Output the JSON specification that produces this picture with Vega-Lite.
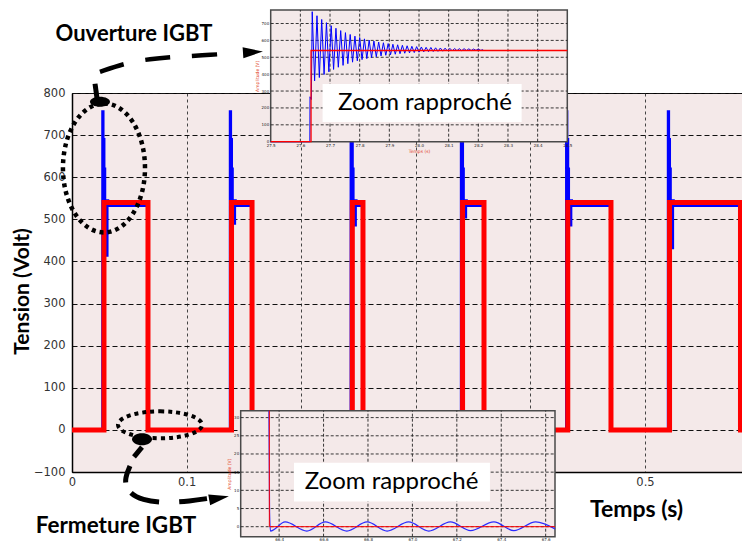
{
  "$schema": "https://vega.github.io/schema/vega-lite/v6.json",
  "width": 671,
  "height": 379,
  "autosize": {"type": "none"},
  "padding": {"left": 72, "top": 93, "right": 0, "bottom": 73},
  "background": "white",
  "config": {
    "view": {"fill": "#f4e9e9", "stroke": "#000000", "strokeWidth": 1},
    "axis": {"labelFont": "DejaVu Sans", "titleFont": "Lato"},
    "text": {"font": "Lato"}
  },
  "datasets": {
    "signal_commande": [
      {"t": 0, "v": 0}, {"t": 0.0279, "v": 540}, {"t": 0.0663, "v": 0},
      {"t": 0.1392, "v": 540}, {"t": 0.1571, "v": 0},
      {"t": 0.2446, "v": 540}, {"t": 0.2539, "v": 0},
      {"t": 0.3408, "v": 540}, {"t": 0.3595, "v": 0},
      {"t": 0.4326, "v": 540}, {"t": 0.4703, "v": 0},
      {"t": 0.5214, "v": 540}, {"t": 0.5833, "v": 0},
      {"t": 0.5855, "v": 0}
    ],
    "signal_mesure": [
      {"t": 0, "v": 0},
      {"t": 0.0266, "v": 756}, {"t": 0.0273, "v": 690}, {"t": 0.0281, "v": 620}, {"t": 0.0288, "v": 545}, {"t": 0.0302, "v": 414}, {"t": 0.0308, "v": 545}, {"t": 0.0314, "v": 532}, {"t": 0.0663, "v": 0},
      {"t": 0.1379, "v": 756}, {"t": 0.1386, "v": 690}, {"t": 0.1394, "v": 620}, {"t": 0.1401, "v": 545}, {"t": 0.1415, "v": 490}, {"t": 0.1421, "v": 545}, {"t": 0.1427, "v": 532}, {"t": 0.1571, "v": 0},
      {"t": 0.2433, "v": 756}, {"t": 0.244, "v": 690}, {"t": 0.2448, "v": 620}, {"t": 0.2455, "v": 545}, {"t": 0.2469, "v": 486}, {"t": 0.2475, "v": 545}, {"t": 0.2481, "v": 532}, {"t": 0.2539, "v": 0},
      {"t": 0.3395, "v": 756}, {"t": 0.3402, "v": 690}, {"t": 0.341, "v": 620}, {"t": 0.3417, "v": 545}, {"t": 0.3431, "v": 505}, {"t": 0.3437, "v": 545}, {"t": 0.3443, "v": 532}, {"t": 0.3595, "v": 0},
      {"t": 0.4313, "v": 756}, {"t": 0.432, "v": 690}, {"t": 0.4328, "v": 620}, {"t": 0.4335, "v": 545}, {"t": 0.4349, "v": 486}, {"t": 0.4355, "v": 545}, {"t": 0.4361, "v": 532}, {"t": 0.4703, "v": 0},
      {"t": 0.5201, "v": 756}, {"t": 0.5208, "v": 690}, {"t": 0.5216, "v": 620}, {"t": 0.5223, "v": 545}, {"t": 0.5237, "v": 432}, {"t": 0.5243, "v": 545}, {"t": 0.5249, "v": 532}, {"t": 0.5833, "v": 0},
      {"t": 0.5855, "v": 0}
    ],
    "zoom_ouv_commande": [
      {"ms": 27.5, "v": 0}, {"ms": 27.636, "v": 540}, {"ms": 28.5, "v": 540}
    ],
    "zoom_ouv_mesure": [
      {"ms": 27.5, "v": 0}, {"ms": 27.632, "v": 0}, {"ms": 27.6325, "v": 266}, {"ms": 27.637, "v": 250},
      {"ms": 27.64, "v": 770}, {"ms": 27.648, "v": 360}, {"ms": 27.656, "v": 746}, {"ms": 27.664, "v": 380},
      {"ms": 27.672, "v": 724}, {"ms": 27.68, "v": 398}, {"ms": 27.688, "v": 705}, {"ms": 27.696, "v": 414},
      {"ms": 27.704, "v": 687}, {"ms": 27.712, "v": 428}, {"ms": 27.72, "v": 672}, {"ms": 27.728, "v": 441},
      {"ms": 27.736, "v": 658}, {"ms": 27.744, "v": 452}, {"ms": 27.752, "v": 646}, {"ms": 27.76, "v": 462},
      {"ms": 27.768, "v": 635}, {"ms": 27.776, "v": 471}, {"ms": 27.784, "v": 625}, {"ms": 27.792, "v": 479},
      {"ms": 27.8, "v": 617}, {"ms": 27.808, "v": 486}, {"ms": 27.816, "v": 609}, {"ms": 27.824, "v": 492},
      {"ms": 27.832, "v": 602}, {"ms": 27.84, "v": 498}, {"ms": 27.848, "v": 596}, {"ms": 27.856, "v": 503},
      {"ms": 27.864, "v": 590}, {"ms": 27.872, "v": 508}, {"ms": 27.88, "v": 586}, {"ms": 27.888, "v": 512},
      {"ms": 27.896, "v": 581}, {"ms": 27.904, "v": 515}, {"ms": 27.912, "v": 577}, {"ms": 27.92, "v": 518},
      {"ms": 27.928, "v": 574}, {"ms": 27.936, "v": 521}, {"ms": 27.944, "v": 571}, {"ms": 27.952, "v": 524},
      {"ms": 27.96, "v": 568}, {"ms": 27.968, "v": 526}, {"ms": 27.976, "v": 565}, {"ms": 27.984, "v": 528},
      {"ms": 27.992, "v": 563}, {"ms": 28.0, "v": 530}, {"ms": 28.008, "v": 561}, {"ms": 28.016, "v": 532},
      {"ms": 28.024, "v": 559}, {"ms": 28.032, "v": 533}, {"ms": 28.04, "v": 558}, {"ms": 28.048, "v": 534},
      {"ms": 28.056, "v": 556}, {"ms": 28.064, "v": 535}, {"ms": 28.072, "v": 555}, {"ms": 28.08, "v": 536},
      {"ms": 28.088, "v": 554}, {"ms": 28.096, "v": 537}, {"ms": 28.104, "v": 553}, {"ms": 28.112, "v": 538},
      {"ms": 28.12, "v": 552}, {"ms": 28.128, "v": 539}, {"ms": 28.136, "v": 551}, {"ms": 28.144, "v": 539},
      {"ms": 28.152, "v": 551}, {"ms": 28.16, "v": 540}, {"ms": 28.168, "v": 550}, {"ms": 28.176, "v": 540},
      {"ms": 28.184, "v": 549}, {"ms": 28.192, "v": 541}, {"ms": 28.2, "v": 549}, {"ms": 28.208, "v": 541},
      {"ms": 28.216, "v": 545}
    ],
    "zoom_ferm_commande": [
      {"ms": 66.355, "v": 31.9}, {"ms": 66.356, "v": 0}, {"ms": 67.642, "v": 0}
    ],
    "zoom_ferm_mesure": [
      {"ms": 66.354, "v": 31.9}, {"ms": 66.357, "v": 4}, {"ms": 66.361, "v": -1.2},
      {"ms": 66.427, "v": 1.3}, {"ms": 66.525, "v": -1.2}, {"ms": 66.608, "v": 1.3}, {"ms": 66.705, "v": -1.2},
      {"ms": 66.796, "v": 1.3}, {"ms": 66.886, "v": -1.2}, {"ms": 66.983, "v": 1.3}, {"ms": 67.074, "v": -1.2},
      {"ms": 67.171, "v": 1.3}, {"ms": 67.262, "v": -1.1}, {"ms": 67.367, "v": 1.3}, {"ms": 67.457, "v": -1.1},
      {"ms": 67.555, "v": 1.3}, {"ms": 67.642, "v": -0.6}
    ],
    "grille_ouv_t": [
      {"ms": 27.6}, {"ms": 27.7}, {"ms": 27.8}, {"ms": 27.9}, {"ms": 28.0},
      {"ms": 28.1}, {"ms": 28.2}, {"ms": 28.3}, {"ms": 28.4}
    ],
    "grille_ouv_v": [
      {"v": 100}, {"v": 200}, {"v": 300}, {"v": 400}, {"v": 500}, {"v": 600}, {"v": 700}
    ],
    "grille_ferm_t": [
      {"ms": 66.4}, {"ms": 66.6}, {"ms": 66.8}, {"ms": 67.0}, {"ms": 67.2}, {"ms": 67.4}, {"ms": 67.6}
    ],
    "grille_ferm_v": [
      {"v": 0}, {"v": 5}, {"v": 10}, {"v": 15}, {"v": 20}, {"v": 25}, {"v": 30}
    ],
    "fleche_ouv": [
      {"k": 1, "t": 0.0244, "v": 850}, {"k": 2, "t": 0.0463, "v": 871}, {"k": 3, "t": 0.0681, "v": 881},
      {"k": 4, "t": 0.0899, "v": 886}, {"k": 5, "t": 0.1117, "v": 889}, {"k": 6, "t": 0.1449, "v": 895}
    ],
    "fleche_ferm": [
      {"k": 1, "t": 0.0506, "v": -86}, {"k": 2, "t": 0.0454, "v": -119}, {"k": 3, "t": 0.0489, "v": -148},
      {"k": 4, "t": 0.0611, "v": -167}, {"k": 5, "t": 0.0812, "v": -174}, {"k": 6, "t": 0.103, "v": -169},
      {"k": 7, "t": 0.1204, "v": -162}
    ],
    "poignees": [
      {"p": "ouverture", "t": 0.0201, "v": 822}, {"p": "ouverture", "t": 0.0218, "v": 788},
      {"p": "fermeture", "t": 0.0611, "v": -41}, {"p": "fermeture", "t": 0.0541, "v": -64}
    ]
  },
  "layer": [
    {
      "layer": [
        {
          "data": {"name": "signal_mesure"},
          "mark": {"type": "line", "color": "#0000ff", "strokeWidth": 2.5, "interpolate": "step-after", "clip": true},
          "encoding": {
            "x": {
              "field": "t", "type": "quantitative",
              "scale": {"domain": [0, 0.5855], "nice": false, "zero": false},
              "axis": {
                "orient": "bottom", "values": [0, 0.1, 0.2, 0.3, 0.4, 0.5], "format": ".1~f",
                "labelExpr": "datum.value < 0.15 || datum.value > 0.45 ? datum.label : ''",
                "labelFontSize": 11.5, "labelColor": "#333333", "labelPadding": 4, "labelFlush": false,
                "ticks": false, "domainColor": "#000000", "domainWidth": 1.5,
                "gridColor": "#444444", "gridDash": [3, 3], "gridWidth": 1,
                "title": "Temps (s)", "titleFontSize": 23, "titleFontWeight": "bold", "titleColor": "#000000",
                "titleX": 564, "titleY": 37, "titleBaseline": "middle", "titleAlign": "center"
              }
            },
            "y": {
              "field": "v", "type": "quantitative",
              "scale": {"domain": [-100, 800], "nice": false, "zero": false},
              "axis": {
                "orient": "left", "values": [-100, 0, 100, 200, 300, 400, 500, 600, 700, 800], "format": "d",
                "labelFontSize": 11.5, "labelColor": "#333333", "labelPadding": 7,
                "ticks": false, "domainColor": "#000000", "domainWidth": 1.5,
                "gridColor": "#111111", "gridDash": [5, 3], "gridWidth": 1,
                "title": "Tension (Volt)", "titleFontSize": 21, "titleFontWeight": "bold", "titleColor": "#000000",
                "titleX": -50, "titleY": 198, "titleAngle": 270, "titleBaseline": "middle", "titleAlign": "center"
              }
            }
          }
        },
        {
          "data": {"name": "signal_commande"},
          "mark": {"type": "line", "color": "#ff0000", "strokeWidth": 5, "interpolate": "step-after", "strokeCap": "butt", "strokeJoin": "miter", "clip": true},
          "encoding": {
            "x": {"field": "t", "type": "quantitative"},
            "y": {"field": "v", "type": "quantitative"}
          }
        },
        {
          "data": {"values": [{}]},
          "mark": {
            "type": "point", "filled": false, "stroke": "#000000", "strokeOpacity": 1, "opacity": 1, "strokeWidth": 4.5, "strokeDash": [4, 4], "size": 16641,
            "shape": "M 0 -1 C 0.351 -1 0.636 -0.552 0.636 0 C 0.636 0.552 0.351 1 0 1 C -0.351 1 -0.636 0.552 -0.636 0 C -0.636 -0.552 -0.351 -1 0 -1 Z"
          },
          "encoding": {"x": {"datum": 0.0279}, "y": {"datum": 622}}
        },
        {
          "data": {"values": [{}]},
          "mark": {
            "type": "point", "filled": false, "stroke": "#000000", "strokeOpacity": 1, "opacity": 1, "strokeWidth": 4, "strokeDash": [4, 4], "size": 7056,
            "shape": "M 0 -0.321 C 0.552 -0.321 1 -0.177 1 0 C 1 0.177 0.552 0.321 0 0.321 C -0.552 0.321 -1 0.177 -1 0 C -1 -0.177 -0.552 -0.321 0 -0.321 Z"
          },
          "encoding": {"x": {"datum": 0.0768}, "y": {"datum": 12}}
        },
        {
          "data": {"name": "poignees"},
          "mark": {"type": "line", "color": "#000000", "strokeWidth": 5, "strokeCap": "butt"},
          "encoding": {
            "x": {"field": "t", "type": "quantitative"},
            "y": {"field": "v", "type": "quantitative"},
            "detail": {"field": "p"}
          }
        },
        {
          "data": {"values": [{}]},
          "mark": {
            "type": "point", "filled": true, "color": "#000000", "opacity": 1, "size": 400,
            "shape": "M 0 -0.5 C 0.552 -0.5 1 -0.276 1 0 C 1 0.276 0.552 0.5 0 0.5 C -0.552 0.5 -1 0.276 -1 0 C -1 -0.276 -0.552 -0.5 0 -0.5 Z"
          },
          "encoding": {"x": {"datum": 0.0244}, "y": {"datum": 779}}
        },
        {
          "data": {"values": [{}]},
          "mark": {
            "type": "point", "filled": true, "color": "#000000", "opacity": 1, "size": 400,
            "shape": "M 0 -0.6 C 0.552 -0.6 1 -0.331 1 0 C 1 0.331 0.552 0.6 0 0.6 C -0.552 0.6 -1 0.331 -1 0 C -1 -0.331 -0.552 -0.6 0 -0.6 Z"
          },
          "encoding": {"x": {"datum": 0.0611}, "y": {"datum": -22}}
        },
        {
          "data": {"name": "fleche_ouv"},
          "mark": {"type": "line", "color": "#000000", "strokeWidth": 4.5, "strokeDash": [25, 22], "interpolate": "basis", "strokeCap": "butt"},
          "encoding": {
            "x": {"field": "t", "type": "quantitative"},
            "y": {"field": "v", "type": "quantitative"},
            "order": {"field": "k"}
          }
        },
        {
          "data": {"name": "fleche_ferm"},
          "mark": {"type": "line", "color": "#000000", "strokeWidth": 5, "strokeDash": [17, 12, 30, 20, 28, 20], "interpolate": "basis", "strokeCap": "butt"},
          "encoding": {
            "x": {"field": "t", "type": "quantitative"},
            "y": {"field": "v", "type": "quantitative"},
            "order": {"field": "k"}
          }
        },
        {
          "data": {"values": [{}]},
          "mark": {"type": "point", "filled": true, "color": "#000000", "opacity": 1, "size": 400, "angle": -4, "shape": "M 1 0 L -1 -0.55 L -1 0.55 Z"},
          "encoding": {"x": {"datum": 0.1579}, "y": {"datum": 897}}
        },
        {
          "data": {"values": [{}]},
          "mark": {"type": "point", "filled": true, "color": "#000000", "opacity": 1, "size": 400, "angle": -10, "shape": "M 1 0 L -1 -0.55 L -1 0.55 Z"},
          "encoding": {"x": {"datum": 0.1283}, "y": {"datum": -162}}
        },
        {
          "data": {"values": [{}]},
          "mark": {"type": "text", "text": "Ouverture IGBT", "font": "Lato", "fontSize": 22, "fontWeight": "bold", "color": "#000000", "align": "center", "baseline": "middle"},
          "encoding": {"x": {"datum": 0.0541}, "y": {"datum": 940}}
        },
        {
          "data": {"values": [{}]},
          "mark": {"type": "text", "text": "Fermeture IGBT", "font": "Lato", "fontSize": 22.5, "fontWeight": "bold", "color": "#000000", "align": "center", "baseline": "middle"},
          "encoding": {"x": {"datum": 0.0384}, "y": {"datum": -228}}
        }
      ]
    },
    {
      "layer": [
        {
          "data": {"values": [{}]},
          "mark": {"type": "rect", "fill": "#f4e9e9", "stroke": "#4a4a4a", "strokeWidth": 1.5},
          "encoding": {
            "x": {
              "datum": 27.5, "type": "quantitative",
              "scale": {"domain": [27.5, 28.5], "range": [198.7, 495.3], "nice": false, "zero": false},
              "axis": {
                "orient": "bottom", "offset": -330.3,
                "values": [27.5, 27.6, 27.7, 27.8, 27.9, 28.0, 28.1, 28.2, 28.3, 28.4, 28.5], "format": ".1f",
                "labelFontSize": 4, "labelColor": "#222222", "labelPadding": 1.5, "labelFlush": false, "labelOverlap": false,
                "ticks": false, "domain": false, "grid": false,
                "title": "Temps (s)", "titleFont": "DejaVu Sans", "titleFontSize": 4.5, "titleFontWeight": "normal",
                "titleColor": "#e2452b", "titlePadding": 1.5, "zindex": 1
              }
            },
            "x2": {"datum": 28.5},
            "y": {
              "datum": 0, "type": "quantitative",
              "scale": {"domain": [0, 780], "range": [48.7, -83], "nice": false, "zero": false},
              "axis": {
                "orient": "left", "offset": -198.7,
                "values": [0, 100, 200, 300, 400, 500, 600, 700], "format": "d",
                "labelFontSize": 4, "labelColor": "#222222", "labelPadding": 2, "labelOverlap": false,
                "ticks": false, "domain": false, "grid": false,
                "title": "Amplitude (V)", "titleFont": "DejaVu Sans", "titleFontSize": 4.5, "titleFontWeight": "normal",
                "titleColor": "#e2452b", "titlePadding": 2, "zindex": 1
              }
            },
            "y2": {"datum": 780}
          }
        },
        {
          "data": {"name": "grille_ouv_t"},
          "mark": {"type": "rule", "color": "#222222", "strokeWidth": 0.9, "strokeDash": [3, 2]},
          "encoding": {
            "x": {"field": "ms", "type": "quantitative"},
            "y": {"datum": 0},
            "y2": {"datum": 780}
          }
        },
        {
          "data": {"name": "grille_ouv_v"},
          "mark": {"type": "rule", "color": "#222222", "strokeWidth": 0.9, "strokeDash": [3, 2]},
          "encoding": {
            "y": {"field": "v", "type": "quantitative"},
            "x": {"datum": 27.5},
            "x2": {"datum": 28.5}
          }
        },
        {
          "data": {"name": "zoom_ouv_mesure"},
          "mark": {"type": "line", "color": "#0000ff", "strokeWidth": 1},
          "encoding": {
            "x": {"field": "ms", "type": "quantitative"},
            "y": {"field": "v", "type": "quantitative"}
          }
        },
        {
          "data": {"name": "zoom_ouv_commande"},
          "mark": {"type": "line", "color": "#ff0000", "strokeWidth": 1.3, "interpolate": "step-after"},
          "encoding": {
            "x": {"field": "ms", "type": "quantitative"},
            "y": {"field": "v", "type": "quantitative"}
          }
        },
        {
          "data": {"values": [{}]},
          "mark": {"type": "rect", "fill": "#ffffff"},
          "encoding": {
            "x": {"datum": 27.675},
            "x2": {"datum": 28.346},
            "y": {"datum": 117},
            "y2": {"datum": 342}
          }
        },
        {
          "data": {"values": [{}]},
          "mark": {"type": "text", "text": "Zoom rapproché", "font": "Lato", "fontSize": 24, "color": "#000000", "align": "center", "baseline": "middle"},
          "encoding": {"x": {"datum": 28.02}, "y": {"datum": 229}}
        }
      ]
    },
    {
      "layer": [
        {
          "data": {"values": [{}]},
          "mark": {"type": "rect", "fill": "#f4e9e9", "stroke": "#4a4a4a", "strokeWidth": 1.5},
          "encoding": {
            "x": {
              "datum": 66.227, "type": "quantitative",
              "scale": {"domain": [66.227, 67.642], "range": [168.7, 483], "nice": false, "zero": false},
              "axis": {
                "orient": "bottom", "offset": 64.7,
                "values": [66.4, 66.6, 66.8, 67.0, 67.2, 67.4, 67.6], "format": ".1f",
                "labelFontSize": 4, "labelColor": "#222222", "labelPadding": 0.5, "labelFlush": false, "labelOverlap": false,
                "ticks": false, "domain": false, "grid": false,
                "title": null, "zindex": 1
              }
            },
            "x2": {"datum": 67.642},
            "y": {
              "datum": -2.75, "type": "quantitative",
              "scale": {"domain": [-2.75, 31.9], "range": [443.7, 317.7], "nice": false, "zero": false},
              "axis": {
                "orient": "left", "offset": -168.7,
                "values": [0, 5, 10, 15, 20, 25, 30], "format": "d",
                "labelFontSize": 4, "labelColor": "#222222", "labelPadding": 2, "labelOverlap": false,
                "ticks": false, "domain": false, "grid": false,
                "title": "Amplitude (V)", "titleFont": "DejaVu Sans", "titleFontSize": 4.5, "titleFontWeight": "normal",
                "titleColor": "#e2452b", "titlePadding": 2, "zindex": 1
              }
            },
            "y2": {"datum": 31.9}
          }
        },
        {
          "data": {"name": "grille_ferm_t"},
          "mark": {"type": "rule", "color": "#222222", "strokeWidth": 0.9, "strokeDash": [3, 2]},
          "encoding": {
            "x": {"field": "ms", "type": "quantitative"},
            "y": {"datum": -2.75},
            "y2": {"datum": 31.9}
          }
        },
        {
          "data": {"name": "grille_ferm_v"},
          "mark": {"type": "rule", "color": "#222222", "strokeWidth": 0.9, "strokeDash": [3, 2]},
          "encoding": {
            "y": {"field": "v", "type": "quantitative"},
            "x": {"datum": 66.227},
            "x2": {"datum": 67.642}
          }
        },
        {
          "data": {"name": "zoom_ferm_mesure"},
          "mark": {"type": "line", "color": "#2b2bff", "strokeWidth": 1.2, "interpolate": "monotone"},
          "encoding": {
            "x": {"field": "ms", "type": "quantitative", "title": null},
            "y": {"field": "v", "type": "quantitative"}
          }
        },
        {
          "data": {"name": "zoom_ferm_commande"},
          "mark": {"type": "line", "color": "#ff0000", "strokeWidth": 1, "interpolate": "step-after"},
          "encoding": {
            "x": {"field": "ms", "type": "quantitative", "title": null},
            "y": {"field": "v", "type": "quantitative"}
          }
        },
        {
          "data": {"values": [{}]},
          "mark": {"type": "rect", "fill": "#ffffff"},
          "encoding": {
            "x": {"datum": 66.467},
            "x2": {"datum": 67.349},
            "y": {"datum": 6.9},
            "y2": {"datum": 17.6}
          }
        },
        {
          "data": {"values": [{}]},
          "mark": {"type": "text", "text": "Zoom rapproché", "font": "Lato", "fontSize": 24, "color": "#000000", "align": "center", "baseline": "middle"},
          "encoding": {"x": {"datum": 66.906}, "y": {"datum": 12.4}}
        }
      ]
    }
  ],
  "resolve": {"scale": {"x": "independent", "y": "independent"}, "axis": {"x": "independent", "y": "independent"}}
}
